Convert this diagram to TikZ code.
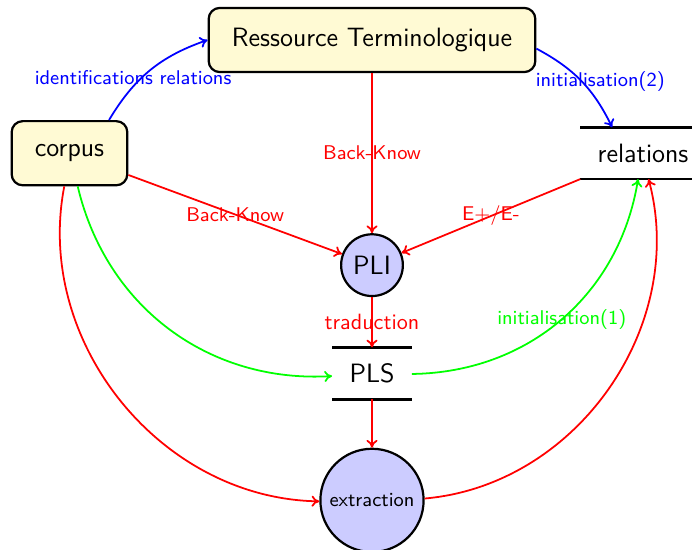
\documentclass[tikz,border=0pt]{standalone}
\usepackage{tikz}
\usetikzlibrary{positioning,arrows.meta}
\definecolor{termfill}{RGB}{255,250,212}
\definecolor{procfill}{RGB}{204,204,255}

\begin{document}
\begin{tikzpicture}[
  node distance=2cm, on grid,
  every node/.style={font=\sffamily\large}
]
  % Styles
  \tikzstyle{term} = [rectangle, rounded corners=5pt, draw=black, line width=1pt, fill=termfill, inner xsep=10.5pt, minimum height=1.02cm]
  \tikzstyle{proc} = [circle, draw=black, line width=1pt, fill=procfill]
  \tikzstyle{store} = [inner xsep=7.7pt, minimum height=0.81cm, append after command={(\tikzlastnode.north west) edge[line width=1.2pt] (\tikzlastnode.north east) (\tikzlastnode.south west) edge[line width=1.2pt] (\tikzlastnode.south east)}]
  \tikzstyle{flow} = [->, >={To[length=3.5pt,width=5pt]}, thick]
  \tikzstyle{lbl} = [font=\sffamily\small]

  \useasboundingbox (-5.915,-8.109) rectangle (5.088,0.636);

  % Nodes
  \node[term] (ressource) {Ressource Terminologique};
  \node[term, below left=1.8cm and 4.81cm of ressource] (corpus) {corpus};
  \node[store, below right=1.8cm and 4.31cm of ressource] (relations) {relations};
  \node[proc, below=3.58cm of ressource] (pli) {PLI};
  \node[store, below=1.72cm of pli] (pls) {PLS};
  \node[proc, below=2.02cm of pls, font=\sffamily\small] (extraction) {extraction};

  % Arrows
  \draw[flow, blue] (corpus.40) to[bend left=20] node[lbl, pos=0.45, xshift=-0.2cm, yshift=-0.05cm] {identifications relations} (ressource.west);
  \draw[flow, blue] (ressource.-3) to[bend left=18] node[lbl, xshift=0.3cm] {initialisation(2)} (relations.140);
  \draw[flow, red] (ressource) -- node[lbl] {Back-Know} (pli);
  \draw[flow, red] (corpus) -- node[lbl] {Back-Know} (pli);
  \draw[flow, red] (relations) -- node[lbl] {E+/E-} (pli);
  \draw[flow, red] (pli) -- node[font=\sffamily] {traduction} (pls);
  \draw[flow, green] (corpus) to[bend right=40] (pls);
  \draw[flow, green] (pls) to[bend right=40] node[lbl] {initialisation(1)} (relations);
  \draw[flow, red] (pls) -- (extraction);
  \draw[flow, red] (corpus) to[bend right=50] (extraction);
  \draw[flow, red] (extraction) to[bend right=50] (relations);
\end{tikzpicture}
\end{document}
